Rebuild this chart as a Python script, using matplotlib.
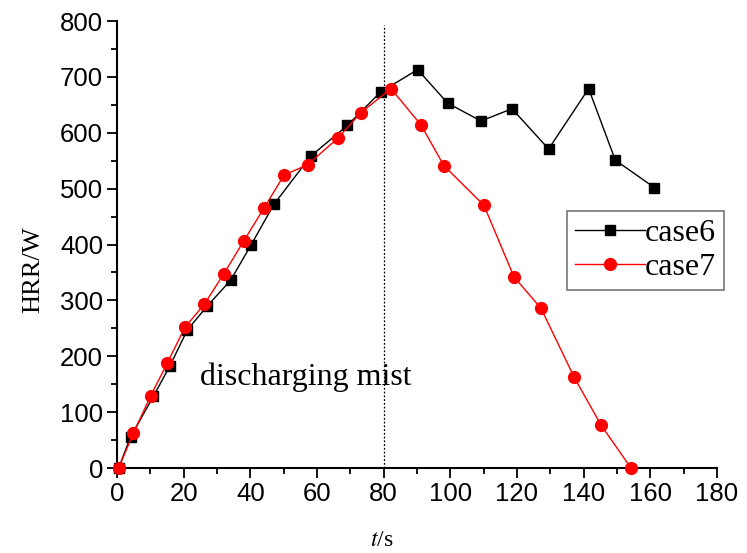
import matplotlib
matplotlib.use('Agg')
import matplotlib.pyplot as plt
from matplotlib.ticker import MultipleLocator

plt.rcParams['mathtext.fontset'] = 'stix'

# Данные
t6 = [0.5, 4.1, 10.9, 15.9, 21.1, 27.1, 34.1, 40.2, 47.1, 58.1, 69.1, 79.1,
      90.2, 99.2, 109.2, 118.5, 129.5, 141.5, 149.5, 161.2]
hrr6 = [0, 56, 128, 183, 247, 290, 336, 399, 472, 558, 613, 673,
        713, 653, 621, 643, 571, 679, 551, 502]

t7 = [0.5, 4.9, 10.1, 15.1, 20.4, 26.2, 32.1, 38.1, 44.1, 50.1, 57.2, 66.2,
      73.2, 82.2, 91.2, 98.1, 110.1, 119.1, 127.2, 137.2, 145.2, 154.2]
hrr7 = [0, 62, 129, 188, 252, 293, 348, 407, 465, 524, 543, 590,
        636, 679, 614, 541, 470, 342, 286, 162, 77, 0]

labels = ['case6', 'case7']
x_ticks = [0, 20, 40, 60, 80, 100, 120, 140, 160, 180]
y_ticks = [0, 100, 200, 300, 400, 500, 600, 700, 800]

serif = ['Liberation Serif', 'DejaVu Serif']
sans = ['Liberation Sans', 'DejaVu Sans']

fig = plt.figure(figsize=(7.47, 5.53), dpi=100)
ax = fig.add_axes([0.1566, 0.1537, 0.8032, 0.8083])

ax.plot(t6, hrr6, color='black', lw=1, marker='s', ms=7.5, label=labels[0], clip_on=False, zorder=3)
ax.plot(t7, hrr7, color='red', lw=1, marker='o', ms=8.5, label=labels[1], clip_on=False, zorder=4)

# Вертикальная линия - начало распыления
ax.plot([80, 80], [0, 792], color='black', lw=0.9, ls=(0, (1.5, 1.5)), zorder=2, clip_on=False)
ax.text(24.9, 148, 'discharging mist', fontsize=23, family=serif, va='baseline')

ax.set_xlim(0, 180)
ax.set_ylim(0, 800)
ax.xaxis.set_minor_locator(MultipleLocator(10))
ax.yaxis.set_minor_locator(MultipleLocator(50))
ax.set_xticks(x_ticks)
ax.set_yticks(y_ticks)

for s in ['top', 'right']:
    ax.spines[s].set_visible(False)
for s in ['left', 'bottom']:
    ax.spines[s].set_linewidth(1.5)

ax.tick_params(which='major', direction='out', length=7, width=1.3, labelsize=18.5, pad=3)
ax.tick_params(which='minor', direction='out', length=4, width=1.3)
for lab in ax.get_xticklabels() + ax.get_yticklabels():
    lab.set_family(sans)

fig.text(33 / 747, 1 - 270 / 553, 'HRR/W', rotation=90, fontsize=19, family=serif,
         ha='center', va='center')
fig.text(382 / 747, 1 - 541 / 553, '$t$/s', fontsize=17, family=serif,
         ha='center', va='center')

leg = ax.legend(loc='upper left', bbox_to_anchor=(0.75, 0.575),
                prop={'family': serif, 'size': 23}, frameon=True, fancybox=False,
                handlelength=2.2, handletextpad=0, borderpad=0.25, labelspacing=0.15,
                borderaxespad=0)
leg.get_frame().set_edgecolor('#555555')
leg.get_frame().set_linewidth(1.2)

fig.savefig('out.png', dpi=100)
